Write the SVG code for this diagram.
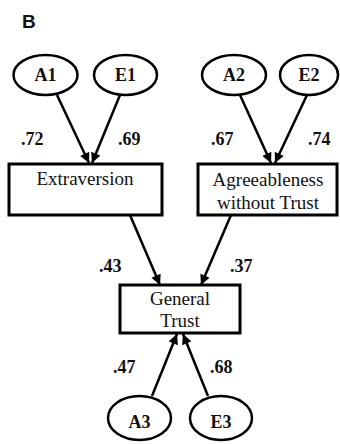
<svg xmlns="http://www.w3.org/2000/svg" width="340" height="444" viewBox="0 0 340 444">
<style>
.ell{fill:#fff;stroke:#000;stroke-width:2.5}
.box{fill:#fff;stroke:#000;stroke-width:3}
text{font-family:'Liberation Serif','Times New Roman',Times,'DejaVu Serif',serif;fill:#111}
.lt{font-weight:bold;font-size:18px;text-anchor:middle}
.bt{font-size:19px;text-anchor:middle}
.num{font-weight:bold;font-size:18px}
.c{stroke:#000;stroke-width:2.5;fill:none;marker-end:url(#ah)}
</style>
<defs>
<marker id="ah" markerUnits="userSpaceOnUse" viewBox="0 0 10 10" refX="10" refY="5" markerWidth="11" markerHeight="10" orient="auto">
<path d="M0,0 L10,5 L0,10 z" fill="#000"/>
</marker>
</defs>
<rect width="340" height="444" fill="#fff"/>
<text x="22" y="28" style="font-family:'Liberation Sans',Arial,sans-serif;font-weight:bold;font-size:19px">B</text>
<g id="connectors">
<line class="c" x1="57" y1="95" x2="89" y2="163"/>
<line class="c" x1="120" y1="95" x2="92" y2="163"/>
<line class="c" x1="240" y1="95" x2="271" y2="163"/>
<line class="c" x1="307" y1="95" x2="275" y2="163"/>
<line class="c" x1="130" y1="215" x2="160" y2="285"/>
<line class="c" x1="231" y1="215" x2="201" y2="285"/>
<line class="c" x1="152" y1="396" x2="177" y2="334"/>
<line class="c" x1="208" y1="396" x2="183" y2="334"/>
</g>
<g id="labels">
<text class="num" x="21" y="145">.72</text>
<text class="num" x="118" y="145">.69</text>
<text class="num" x="211" y="145">.67</text>
<text class="num" x="308" y="145">.74</text>
<text class="num" x="99" y="272">.43</text>
<text class="num" x="230" y="272">.37</text>
<text class="num" x="113" y="373">.47</text>
<text class="num" x="210" y="373">.68</text>
</g>
<g id="A1"><ellipse class="ell" cx="45.5" cy="75" rx="32" ry="20"/><text class="lt" x="45.5" y="81">A1</text></g>
<g id="E1"><ellipse class="ell" cx="125.5" cy="75" rx="31.5" ry="20"/><text class="lt" x="125.5" y="81">E1</text></g>
<g id="A2"><ellipse class="ell" cx="234" cy="75" rx="32" ry="20"/><text class="lt" x="234" y="81">A2</text></g>
<g id="E2"><ellipse class="ell" cx="309" cy="75" rx="29" ry="20"/><text class="lt" x="309" y="81">E2</text></g>
<g id="Extraversion"><rect class="box" x="9" y="164" width="153" height="51"/><text class="bt" x="85" y="185">Extraversion</text></g>
<g id="Agreeableness"><rect class="box" x="198" y="164" width="139" height="51"/><text class="bt" x="268" y="186">Agreeableness</text><text class="bt" x="268" y="209">without Trust</text></g>
<g id="GeneralTrust"><rect class="box" x="120" y="285" width="120" height="48"/><text class="bt" x="180" y="305">General</text><text class="bt" x="180" y="327">Trust</text></g>
<g id="A3"><ellipse class="ell" cx="139.5" cy="418" rx="31.5" ry="22"/><text class="lt" x="139.5" y="428">A3</text></g>
<g id="E3"><ellipse class="ell" cx="221" cy="418" rx="31" ry="22"/><text class="lt" x="221" y="428">E3</text></g>
</svg>
